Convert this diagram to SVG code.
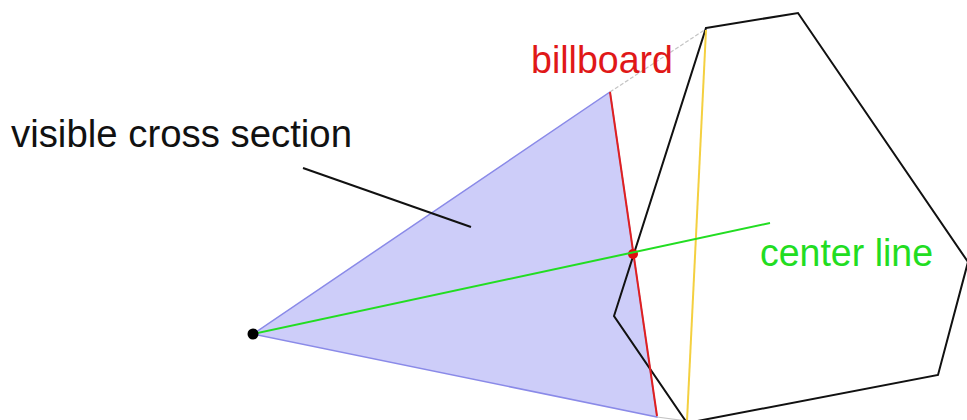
<svg xmlns="http://www.w3.org/2000/svg" width="967" height="420" viewBox="0 0 967 420">
<style>
  .lbl { font-family: "Liberation Sans", Arial, sans-serif; font-size: 38px; }
  .thin { fill: none; stroke-linecap: round; }
</style>
<rect width="967" height="420" fill="#ffffff"/>
<g id="cross-section">
  <polygon points="253,334 610,92 657,417" fill="#cdcdf9" stroke="#8a8ae8" stroke-width="1.5"/>
</g>
<g id="connectors">
  <line x1="610" y1="92" x2="706" y2="29" stroke="#c4c4c4" stroke-width="1.2" stroke-dasharray="4,2"/>
  <line x1="657" y1="417" x2="687" y2="421" stroke="#c4c4c4" stroke-width="1.2"/>
  <line x1="303" y1="168" x2="471" y2="227" stroke="#111111" stroke-width="2"/>
</g>
<g id="object">
  <polygon points="706,28 798,13 968,262 938,375 687,423 614,316" fill="none" stroke="#111111" stroke-width="2" stroke-linejoin="miter"/>
  <line x1="706" y1="30" x2="687" y2="421" stroke="#f4d040" stroke-width="2"/>
</g>
<g id="billboard">
  <line x1="610" y1="92" x2="657" y2="416" stroke="#e02020" stroke-width="2"/>
  <circle cx="633" cy="254" r="5" fill="#e01010"/>
</g>
<g id="center-line">
  <line x1="253" y1="334" x2="770" y2="223" stroke="#22dd22" stroke-width="2"/>
</g>
<g id="viewpoint">
  <circle cx="253" cy="334" r="5.5" fill="#000000"/>
</g>
<g id="labels">
  <text class="lbl" x="11" y="147" fill="#111111" textLength="341" lengthAdjust="spacingAndGlyphs">visible cross section</text>
  <text class="lbl" x="531" y="73" fill="#e01818" textLength="142" lengthAdjust="spacingAndGlyphs">billboard</text>
  <text class="lbl" x="760" y="266" fill="#22dd22" textLength="173" lengthAdjust="spacingAndGlyphs">center line</text>
</g>
</svg>
